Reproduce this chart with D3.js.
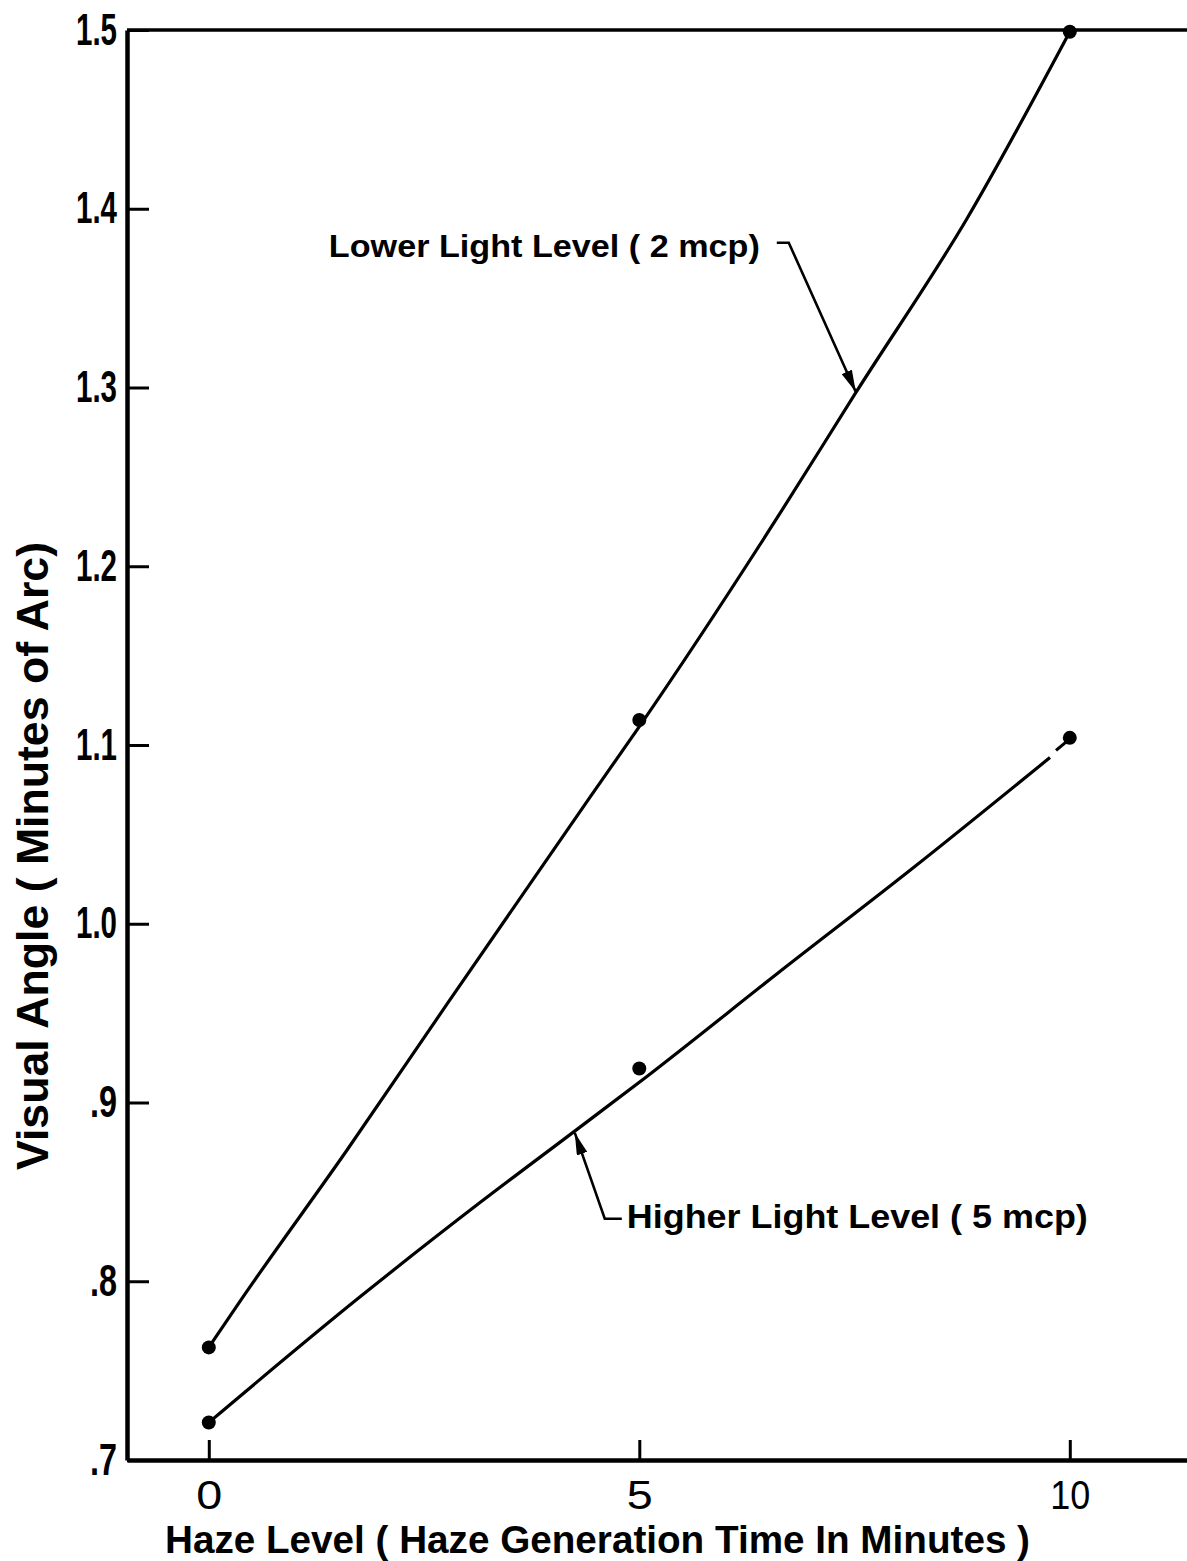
<!DOCTYPE html>
<html><head><meta charset="utf-8">
<script src="https://cdn.jsdelivr.net/npm/d3@7"></script>
<style>body{margin:0;background:#fff}svg{display:block}</style>
</head><body>
<svg id="c" width="1187" height="1561"></svg>
<script>
// ---- data ----
const xTicks = [0, 5, 10];
const xTickLabels = ["0", "5", "10"];
const yTicks = [0.7, 0.8, 0.9, 1.0, 1.1, 1.2, 1.3, 1.4, 1.5];
const yTickLabels = [".7", ".8", ".9", "1.0", "1.1", "1.2", "1.3", "1.4", "1.5"];
const pointX = [0, 5, 10];
const lowerLightPoints = [0.763, 1.114, 1.499];   // 2 mcp
const higherLightPoints = [0.721, 0.919, 1.104];  // 5 mcp
const lowerCurveX = [0, 0.38, 1.6, 2.78, 4.43, 5.01, 6.6, 7.52, 8.8, 10];
const lowerCurveY = [0.763, 0.790, 0.873, 0.956, 1.071, 1.111, 1.227, 1.2975, 1.394, 1.499];
const higherCurveX = [0, 1.75, 3.15, 4.25, 5.1, 6.6, 8.2, 9.77];
const higherCurveY = [0.721, 0.791, 0.844, 0.884, 0.915, 0.972, 1.032, 1.093];
const higherTailX = [9.84, 9.99];
const higherTailY = [1.097, 1.103];
const lowerLabel = "Lower Light Level  ( 2 mcp)";
const higherLabel = "Higher Light Level  ( 5 mcp)";
const xTitle = "Haze  Level ( Haze Generation Time In Minutes )";
const yTitle = "Visual Angle  ( Minutes of Arc)";
// annotation anchors (data units)
const lowerLeaderX = [6.597, 6.736, 7.515];
const lowerLeaderY = [1.381, 1.381, 1.2975];
const higherLeaderX = [4.797, 4.599, 4.251];
const higherLeaderY = [0.835, 0.835, 0.883];
const lowerLabelPos = [1.394, 1.373];
const higherLabelPos = [4.855, 0.830];

// ---- drawing ----
const svg = d3.select("#c");
const FONT = "'Liberation Sans', Arial, sans-serif";
const x = d3.scaleLinear().domain([-0.95, 11.4]).range([127, 127 + 12.35 * 86.1]);
const y = d3.scaleLinear().domain([0.7, 1.5]).range([1460, 30]);

svg.append("defs").append("marker")
  .attr("id", "ah").attr("viewBox", "0 0 20 10").attr("refX", 20).attr("refY", 5)
  .attr("markerUnits", "userSpaceOnUse").attr("markerWidth", 22).attr("markerHeight", 11)
  .attr("orient", "auto")
  .append("path").attr("d", "M0,0 L20,5 L0,10 Z").attr("fill", "#000");

// top border
svg.append("line").attr("x1", x.range()[0]).attr("x2", x.range()[1])
  .attr("y1", y(1.5)).attr("y2", y(1.5)).attr("stroke", "#000").attr("stroke-width", 3.5);

// y axis
const gy = svg.append("g").attr("transform", `translate(${x.range()[0]},0)`)
  .call(d3.axisLeft(y).tickValues(yTicks).tickFormat((d, i) => yTickLabels[i])
    .tickSizeInner(-22).tickSizeOuter(0).tickPadding(10));
gy.select(".domain").attr("stroke-width", 4.5);
gy.selectAll(".tick line").attr("stroke-width", 3);
gy.selectAll(".tick text").attr("font-family", FONT).attr("font-weight", "bold")
  .attr("font-size", 44).attr("fill", "#000")
  .attr("textLength", (d, i) => yTickLabels[i].length === 3 ? 41 : 27)
  .attr("lengthAdjust", "spacingAndGlyphs");

// x axis
const gx = svg.append("g").attr("transform", `translate(0,${y.range()[0]})`)
  .call(d3.axisBottom(x).tickValues(xTicks).tickFormat((d, i) => xTickLabels[i])
    .tickSizeInner(-20).tickSizeOuter(0).tickPadding(20));
gx.select(".domain").attr("stroke-width", 4.5);
gx.selectAll(".tick line").attr("stroke-width", 3);
gx.selectAll(".tick text").attr("font-family", FONT).attr("font-weight", "normal")
  .attr("font-size", 41).attr("fill", "#000")
  .attr("textLength", (d, i) => xTickLabels[i].length === 2 ? 40 : 26)
  .attr("lengthAdjust", "spacingAndGlyphs");

// curves
const line = d3.line().x(d => x(d[0])).y(d => y(d[1])).curve(d3.curveMonotoneX);
const straight = d3.line().x(d => x(d[0])).y(d => y(d[1]));
svg.append("path").attr("d", line(lowerCurveX.map((v, i) => [v, lowerCurveY[i]])))
  .attr("fill", "none").attr("stroke", "#000").attr("stroke-width", 3.2);
svg.append("path").attr("d", line(higherCurveX.map((v, i) => [v, higherCurveY[i]])))
  .attr("fill", "none").attr("stroke", "#000").attr("stroke-width", 3.2);
svg.append("path").attr("d", straight(higherTailX.map((v, i) => [v, higherTailY[i]])))
  .attr("fill", "none").attr("stroke", "#000").attr("stroke-width", 3.2);

// points
svg.selectAll("circle.lo").data(pointX).join("circle").attr("class", "lo")
  .attr("cx", d => x(d)).attr("cy", (d, i) => y(lowerLightPoints[i])).attr("r", 7).attr("fill", "#000");
svg.selectAll("circle.hi").data(pointX).join("circle").attr("class", "hi")
  .attr("cx", d => x(d)).attr("cy", (d, i) => y(higherLightPoints[i])).attr("r", 7).attr("fill", "#000");

// leaders
svg.append("path").attr("d", straight(lowerLeaderX.map((v, i) => [v, lowerLeaderY[i]])))
  .attr("fill", "none").attr("stroke", "#000").attr("stroke-width", 2.6).attr("marker-end", "url(#ah)");
svg.append("path").attr("d", straight(higherLeaderX.map((v, i) => [v, higherLeaderY[i]])))
  .attr("fill", "none").attr("stroke", "#000").attr("stroke-width", 2.6).attr("marker-end", "url(#ah)");

// annotation labels
svg.append("text").attr("x", x(lowerLabelPos[0])).attr("y", y(lowerLabelPos[1]))
  .attr("font-family", FONT).attr("font-weight", "bold").attr("font-size", 32)
  .attr("textLength", 431).attr("lengthAdjust", "spacingAndGlyphs").text(lowerLabel);
svg.append("text").attr("x", x(higherLabelPos[0])).attr("y", y(higherLabelPos[1]))
  .attr("font-family", FONT).attr("font-weight", "bold").attr("font-size", 33)
  .attr("textLength", 461).attr("lengthAdjust", "spacingAndGlyphs").text(higherLabel);

// axis titles
svg.append("text").attr("x", 165).attr("y", 1553)
  .attr("font-family", FONT).attr("font-weight", "bold").attr("font-size", 38)
  .attr("textLength", 865).attr("lengthAdjust", "spacingAndGlyphs").text(xTitle);
svg.append("text").attr("transform", "translate(48,856) rotate(-90)").attr("text-anchor", "middle")
  .attr("font-family", FONT).attr("font-weight", "bold").attr("font-size", 44)
  .attr("textLength", 628).attr("lengthAdjust", "spacingAndGlyphs").text(yTitle);
</script>
</body></html>
